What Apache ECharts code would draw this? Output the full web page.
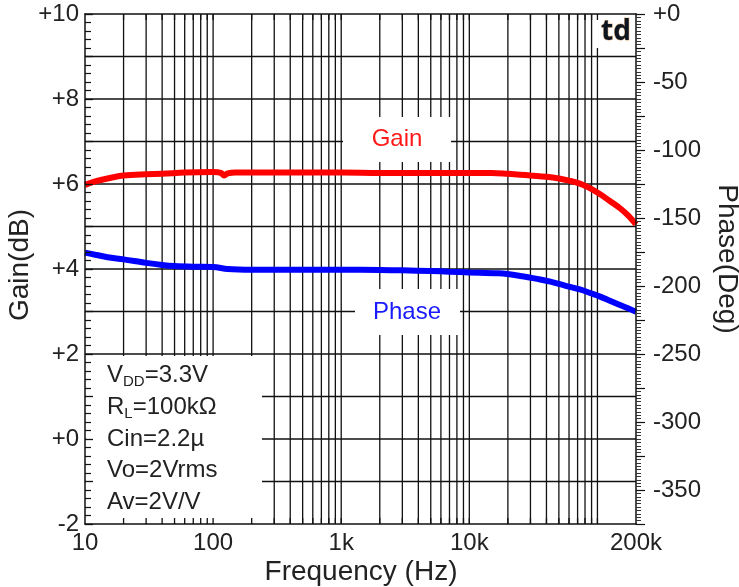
<!DOCTYPE html>
<html>
<head>
<meta charset="utf-8">
<script src="https://cdn.jsdelivr.net/npm/echarts@6/dist/echarts.min.js"></script>
<style>
  html, body { margin: 0; padding: 0; background: #ffffff; }
  #chart { width: 739px; height: 587px; }
</style>
</head>
<body>
<div id="chart"></div>
<script>
// Gain response (dB) vs frequency (Hz)
const gainFreq = [10, 12, 15, 20, 30, 40, 60, 100, 115, 122, 130, 150, 200, 500, 1000, 2000, 5000, 10000, 15000, 20000, 25000, 30000, 40000, 50000, 60000, 73000, 85000, 105000, 125000, 150000, 175000, 200000];
const gainDb = [5.98, 6.06, 6.13, 6.2, 6.23, 6.24, 6.27, 6.28, 6.26, 6.2, 6.25, 6.27, 6.27, 6.27, 6.27, 6.26, 6.26, 6.26, 6.26, 6.24, 6.22, 6.2, 6.17, 6.13, 6.08, 6.01, 5.92, 5.76, 5.6, 5.43, 5.25, 5.05];

// Phase response (degrees) vs frequency (Hz)
const phaseFreq = [10, 12, 15, 20, 30, 40, 50, 70, 100, 130, 200, 500, 1000, 2000, 3000, 5000, 7000, 10000, 17000, 25000, 35000, 43000, 55000, 73000, 90000, 105000, 125000, 150000, 175000, 200000];
const phaseDeg = [-175.5, -177, -178.8, -180.4, -183, -184.5, -185.3, -185.8, -186, -187.5, -188, -188, -188, -188.2, -188.5, -189, -189.5, -190, -190.7, -192.6, -195, -196.8, -199.5, -202.5, -205.5, -207.8, -210.8, -214, -216.5, -218.9];

// Axis ranges and tick labels
const freqRange = [10, 200000];
const gainRange = [-2, 10];
const phaseRange = [-375, 0];
const freqLabels = { 10: '10', 100: '100', 1000: '1k', 10000: '10k', 200000: '200k' };

// Log-decade grid: 1..9 x each decade; horizontal grid every 1 dB
const decades = [10, 100, 1000, 10000, 100000];
const decadeSteps = [1, 2, 3, 4, 5, 6, 7, 8, 9];
const gainGridLevels = [-1, 0, 1, 2, 3, 4, 5, 6, 7, 8, 9];

// Test conditions printed in the lower-left box
const notes = [
  '{m|V}{s|DD}{m|=3.3V}',
  '{m|R}{s|L}{m|=100kΩ}',
  '{m|Cin=2.2µ}',
  '{m|Vo=2Vrms}',
  '{m|Av=2V/V}'
];

const FONT = "'Liberation Sans', Arial, Helvetica, sans-serif";
const INK = '#111111';
const TXT = '#222222';

const gridFreqs = [];
decades.forEach(d => decadeSteps.forEach(m => {
  const f = d * m;
  if (f > freqRange[0] && f < freqRange[1]) gridFreqs.push(f);
}));
const tickFreqs = gridFreqs.slice();

const gainData = gainFreq.map((f, i) => [f, gainDb[i]]);
const phaseData = phaseFreq.map((f, i) => [f, phaseDeg[i]]);

const chart = echarts.init(document.getElementById('chart'), null, { renderer: 'canvas' });

const G = { left: 85, right: 103, top: 14, bottom: 63 };

// blank areas kept free of grid lines (annotation boxes, pixels)
const panels = [
  { x: 86, y: 356, width: 176, height: 167 },
  { x: 343, y: 117, width: 108, height: 45 },
  { x: 355, y: 289, width: 105, height: 46 },
  { x: 596, y: 15, width: 39, height: 33 }
];

// cut a grid line into the pieces that lie outside the blank areas
// dir 'v': line at x = pos running lo..hi in y; dir 'h': line at y = pos running lo..hi in x
function openSegments(dir, pos, lo, hi) {
  let segs = [[lo, hi]];
  panels.forEach(p => {
    const across = dir === 'v' ? [p.x, p.x + p.width] : [p.y, p.y + p.height];
    const along = dir === 'v' ? [p.y, p.y + p.height] : [p.x, p.x + p.width];
    if (pos < across[0] || pos > across[1]) return;
    const next = [];
    segs.forEach(([s, e]) => {
      if (along[1] <= s || along[0] >= e) { next.push([s, e]); return; }
      if (along[0] > s) next.push([s, along[0]]);
      if (along[1] < e) next.push([along[1], e]);
    });
    segs = next;
  });
  return segs;
}

const graphics = [];

notes.forEach((t, i) => {
  graphics.push({
    type: 'text', z: 6, silent: true,
    x: 107, y: [375, 407, 439, 470, 502][i],
    style: {
      text: t,
      verticalAlign: 'middle',
      align: 'left',
      rich: {
        m: { fontSize: 24, fontFamily: FONT, fill: TXT, lineHeight: 28 },
        s: { fontSize: 15, fontFamily: FONT, fill: TXT, lineHeight: 14, verticalAlign: 'bottom' }
      }
    }
  });
});

graphics.push(
  { type: 'text', z: 6, silent: true, x: 397, y: 139,
    style: { text: 'Gain', fontSize: 24, fontFamily: FONT, fill: '#ff1a1a', align: 'center', verticalAlign: 'middle' } },
  { type: 'text', z: 6, silent: true, x: 407, y: 312,
    style: { text: 'Phase', fontSize: 24, fontFamily: FONT, fill: '#1a1aff', align: 'center', verticalAlign: 'middle' } },
  { type: 'text', z: 6, silent: true, x: 616, y: 32,
    style: { text: 'td', fontSize: 28, fontWeight: 'bold', fontFamily: "'Open Sans', sans-serif", fill: '#0d1520',
             stroke: 'rgba(205,120,25,0.55)', lineWidth: 1, align: 'center', verticalAlign: 'middle' } },
  { type: 'text', z: 6, silent: true, x: 20, y: 265, rotation: Math.PI / 2,
    style: { text: 'Gain(dB)', fontSize: 28, fontFamily: FONT, fill: TXT, align: 'center', verticalAlign: 'middle' } },
  { type: 'text', z: 6, silent: true, x: 727, y: 259, rotation: -Math.PI / 2,
    style: { text: 'Phase(Deg)', fontSize: 28, fontFamily: FONT, fill: TXT, align: 'center', verticalAlign: 'middle' } },
  { type: 'text', z: 6, silent: true, x: 361, y: 572,
    style: { text: 'Frequency (Hz)', fontSize: 28, fontFamily: FONT, fill: TXT, align: 'center', verticalAlign: 'middle' } }
);

const lineStyleInk = { color: INK, width: 1.5 };
const noGrid = {
  axisTick: { show: false }, minorTick: { show: false },
  splitLine: { show: false }, minorSplitLine: { show: false }
};

const option = {
  animation: false,
  backgroundColor: '#ffffff',
  grid: { left: G.left, right: G.right, top: G.top, bottom: G.bottom, containLabel: false },
  xAxis: [
    Object.assign({
      type: 'log', logBase: 10, min: freqRange[0], max: freqRange[1], position: 'bottom', z: 5,
      axisLine: { show: true, onZero: false, lineStyle: lineStyleInk },
      axisLabel: {
        show: true, margin: 7, fontSize: 24, fontFamily: FONT, color: TXT,
        showMinLabel: true, showMaxLabel: true,
        formatter: v => freqLabels[Math.round(v)] || ''
      }
    }, noGrid),
    Object.assign({
      type: 'log', logBase: 10, min: freqRange[0], max: freqRange[1], position: 'top', z: 5,
      axisLine: { show: true, onZero: false, lineStyle: lineStyleInk },
      axisLabel: { show: false }
    }, noGrid)
  ],
  yAxis: [
    {
      type: 'value', min: gainRange[0], max: gainRange[1], interval: 1, position: 'left', z: 5,
      axisLine: { show: true, onZero: false, lineStyle: lineStyleInk },
      axisTick: { show: true, inside: true, length: 8, lineStyle: { color: INK, width: 1.3 } },
      minorTick: { show: true, splitNumber: 5, length: 6, lineStyle: { color: INK, width: 1.2 } },
      splitLine: { show: false }, minorSplitLine: { show: false },
      axisLabel: {
        margin: 6, fontSize: 24, fontFamily: FONT, color: TXT,
        formatter: v => (Math.round(v) % 2 !== 0) ? '' : (v >= 0 ? '+' + v : String(v))
      }
    },
    {
      type: 'value', min: phaseRange[0], max: phaseRange[1], interval: 25, position: 'right', z: 5,
      axisLine: { show: true, onZero: false, lineStyle: lineStyleInk },
      axisTick: { show: true, inside: false, length: 9, lineStyle: { color: INK, width: 1.2 } },
      minorTick: { show: true, splitNumber: 10, length: 5, lineStyle: { color: '#333', width: 1 } },
      splitLine: { show: false }, minorSplitLine: { show: false },
      axisLabel: {
        margin: 17, fontSize: 24, fontFamily: FONT, color: TXT,
        formatter: v => v === 0 ? '+0' : (Math.round(v) % 50 === 0 ? String(Math.round(v)) : '')
      }
    }
  ],
  graphic: { elements: graphics },
  series: [
    {
      name: 'vgrid', type: 'custom', xAxisIndex: 0, yAxisIndex: 0, z: 0, silent: true,
      data: gridFreqs.map(f => [f, 0]),
      renderItem: (params, api) => {
        const f = api.value(0);
        const a = api.coord([f, gainRange[0]]);
        const b = api.coord([f, gainRange[1]]);
        const x = a[0];
        return {
          type: 'group',
          children: openSegments('v', x, b[1], a[1]).map(([s, e]) => ({
            type: 'line', shape: { x1: x, y1: s, x2: x, y2: e },
            style: { stroke: INK, lineWidth: 1.3 }
          }))
        };
      }
    },
    {
      name: 'hgrid', type: 'custom', xAxisIndex: 0, yAxisIndex: 0, z: 0, silent: true,
      data: gainGridLevels.map(g => [freqRange[0], g]),
      renderItem: (params, api) => {
        const g = api.value(1);
        const a = api.coord([freqRange[0], g]);
        const b = api.coord([freqRange[1], g]);
        const y = a[1];
        return {
          type: 'group',
          children: openSegments('h', y, a[0], b[0]).map(([s, e]) => ({
            type: 'line', shape: { x1: s, y1: y, x2: e, y2: y },
            style: { stroke: INK, lineWidth: 1.3 }
          }))
        };
      }
    },
    {
      name: 'xticks', type: 'custom', xAxisIndex: 0, yAxisIndex: 0, z: 2, silent: true,
      data: tickFreqs.map(f => [f, 0]),
      renderItem: (params, api) => {
        const f = api.value(0);
        const a = api.coord([f, gainRange[0]]);
        const b = api.coord([f, gainRange[1]]);
        return { type: 'group', children: [
          { type: 'line', shape: { x1: a[0], y1: a[1], x2: a[0], y2: a[1] - 6 }, style: { stroke: INK, lineWidth: 1.3 } },
          { type: 'line', shape: { x1: b[0], y1: b[1], x2: b[0], y2: b[1] + 6 }, style: { stroke: INK, lineWidth: 1.3 } }
        ] };
      }
    },
    {
      name: 'Gain', type: 'line', xAxisIndex: 0, yAxisIndex: 0, z: 3,
      data: gainData, showSymbol: false, smooth: 0.35,
      lineStyle: { color: '#ff0000', width: 6 }
    },
    {
      name: 'Phase', type: 'line', xAxisIndex: 0, yAxisIndex: 1, z: 3,
      data: phaseData, showSymbol: false, smooth: 0.35,
      lineStyle: { color: '#0000ff', width: 6 }
    }
  ]
};

chart.setOption(option);
</script>
</body>
</html>
